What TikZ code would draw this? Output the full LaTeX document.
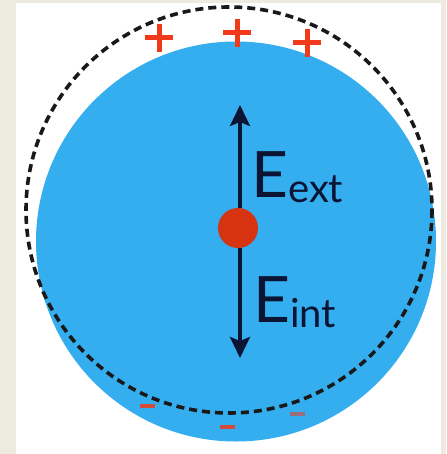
\documentclass[tikz,border=0pt]{standalone}
\usepackage{fontspec}
\setmainfont{Lato}
\usetikzlibrary{arrows.meta}
\definecolor{bgbeige}{RGB}{237,234,224}
\definecolor{ballblue}{RGB}{52,174,239}
\definecolor{navy}{RGB}{12,20,52}
\definecolor{chargered}{RGB}{240,58,26}
\definecolor{dotred}{RGB}{214,51,16}
\tikzset{
  plussign/.style={chargered,line width=5pt},
  minussign/.style={chargered,line width=4.5pt},
  fieldlabel/.style={anchor=base west,inner sep=0pt,text=navy,font=\fontsize{64}{64}\selectfont},
}
\newcommand{\subtxt}[1]{\raisebox{-5pt}{\fontsize{40}{40}\selectfont #1}}
\begin{document}
\begin{tikzpicture}[x=1pt,y=-1pt]
\useasboundingbox (0,0) rectangle (446,454);
\fill[bgbeige] (0,0) rectangle (446,454);
\fill[white] (16,3) rectangle (441,454);
% conductor
\fill[ballblue] (236,241.5) circle[radius=200];
% dashed surface
\draw[black!90,line width=3.6pt,dash pattern=on 8pt off 5pt] (229,210) circle[radius=203];
% plus charges
\foreach \x/\y in {159/38,237/33,307/43}{
  \draw[plussign] (\x-14,\y) -- (\x+14,\y);
  \draw[plussign] (\x,\y-14) -- (\x,\y+14);
}
% minus charges
\draw[minussign,opacity=0.85] (140,406) -- (155,406);
\draw[minussign,opacity=0.85] (220,427) -- (235,427);
\draw[minussign,opacity=0.55] (290,414) -- (305,414);
% field arrows
\coordinate (top) at (240,105);
\coordinate (bot) at (240,358);
\node[circle,fill=dotred,minimum size=40pt,inner sep=0pt] (dot) at (238,228) {};
\draw[navy,line width=3.5pt,-{Stealth[length=21pt,width=20pt,inset=4pt]}] (dot.north -| top) -- (top);
\draw[navy,line width=3.5pt,-{Stealth[length=21pt,width=20pt,inset=4pt]}] (dot.south -| bot) -- (bot);
\node[fieldlabel] (eext) at (251,197) {E\subtxt{ext}};
\node[fieldlabel] (eint) at (253,322) {E\subtxt{int}};
\end{tikzpicture}
\end{document}
